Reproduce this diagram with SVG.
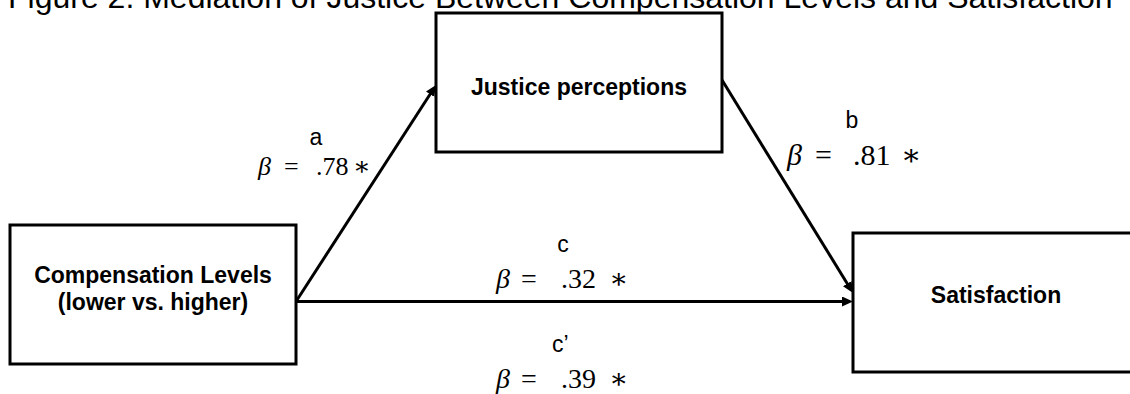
<svg xmlns="http://www.w3.org/2000/svg" width="1130" height="394" viewBox="0 0 1130 394">
<style>
.box{fill:#fff;stroke:#000;stroke-width:3}
.node{font-family:"Liberation Sans",Arial,sans-serif;font-weight:bold;font-size:23px;text-anchor:middle;fill:#000}
.lab{font-family:"Liberation Sans",Arial,sans-serif;font-size:23px;fill:#000}
.math{font-family:"Liberation Serif","DejaVu Serif",serif;fill:#000}
.beta{font-style:italic}
.conn{stroke:#000;stroke-width:3;fill:none;marker-end:url(#arr)}
.title{font-family:"Liberation Sans",Arial,sans-serif;font-size:32px;fill:#000}
</style>
<defs>
<marker id="arr" viewBox="0 0 11 10" refX="6" refY="5" markerWidth="11" markerHeight="10" markerUnits="userSpaceOnUse" orient="auto">
<path d="M0,0 L11,5 L0,10 Z" fill="#000"/>
</marker>
</defs>
<rect width="1130" height="394" fill="#fff"/>
<text class="title" x="8" y="8">Figure 2. Mediation of Justice Between Compensation Levels and Satisfaction</text>
<g id="connectors">
<line class="conn" x1="297" y1="300" x2="433.3" y2="89.2"/>
<line class="conn" x1="722" y1="80" x2="850.4" y2="288.7"/>
<line class="conn" x1="297" y1="301.5" x2="848" y2="301.5"/>
</g>
<g id="node-compensation">
<rect class="box" x="10" y="225" width="286" height="139"/>
<text class="node" x="153" y="283">Compensation Levels</text>
<text class="node" x="153" y="310">(lower vs. higher)</text>
</g>
<g id="node-justice">
<rect class="box" x="436" y="13" width="286" height="139"/>
<text class="node" x="579" y="95">Justice perceptions</text>
</g>
<g id="node-satisfaction">
<rect class="box" x="853" y="233" width="286" height="139"/>
<text class="node" x="996" y="303">Satisfaction</text>
</g>
<g id="labels">
<text class="lab" x="316" y="145" text-anchor="middle">a</text>
<text class="math" y="175" font-size="26"><tspan class="beta" x="258">β</tspan><tspan x="284">=</tspan><tspan x="316">.78</tspan><tspan x="353">∗</tspan></text>
<text class="lab" x="852" y="128" text-anchor="middle">b</text>
<text class="math" y="165" font-size="30"><tspan class="beta" x="787">β</tspan><tspan x="815">=</tspan><tspan x="853">.81</tspan><tspan x="901">∗</tspan></text>
<text class="lab" x="563" y="252" text-anchor="middle">c</text>
<text class="math" y="288" font-size="28"><tspan class="beta" x="496">β</tspan><tspan x="521">=</tspan><tspan x="561">.32</tspan><tspan x="609">∗</tspan></text>
<text class="lab" x="552" y="352">c’</text>
<text class="math" y="388" font-size="28"><tspan class="beta" x="496">β</tspan><tspan x="521">=</tspan><tspan x="561">.39</tspan><tspan x="609">∗</tspan></text>
</g>
</svg>
